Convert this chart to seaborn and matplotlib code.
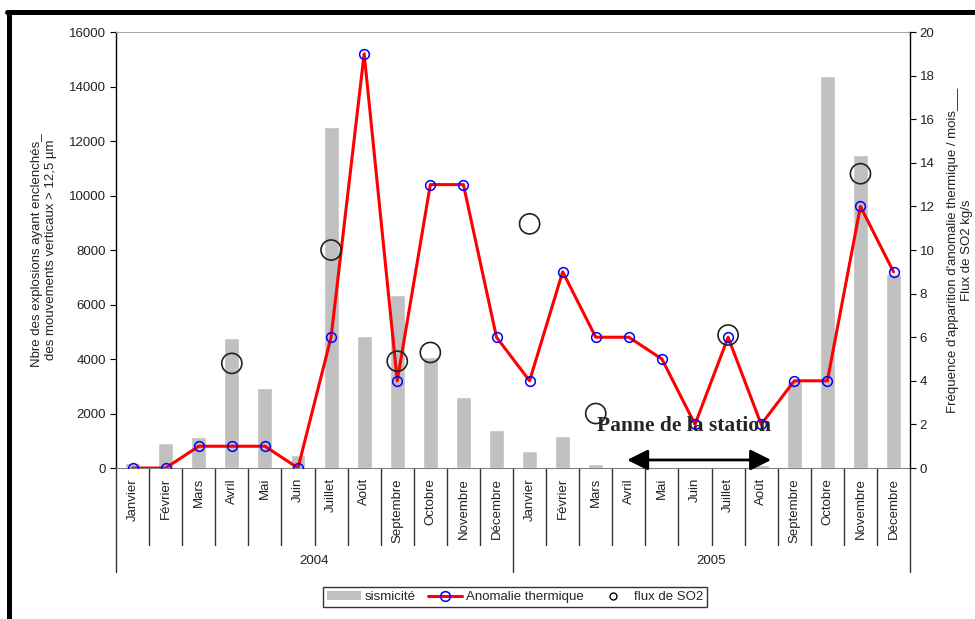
import pandas as pd
import numpy as np
import matplotlib.pyplot as plt
import seaborn as sns
from matplotlib.lines import Line2D
from matplotlib.patches import Patch
import matplotlib.transforms as mtransforms

months = ['Janvier', 'Février', 'Mars', 'Avril', 'Mai', 'Juin', 'Juillet', 'Août',
          'Septembre', 'Octobre', 'Novembre', 'Décembre']
years = ['2004', '2005']
sismicite = [200, 920, 1150, 4780, 2950, 470, 12500, 4850, 6350, 4090, 2620, 1390,
             630, 1180, 160, 0, 0, 0, 0, 100, 3200, 14400, 11480, 7120]
anomalie = [0, 0, 1, 1, 1, 0, 6, 19, 4, 13, 13, 6,
            4, 9, 6, 6, 5, 2, 6, 2, 4, 4, 12, 9]
so2 = [np.nan, np.nan, np.nan, 4.8, np.nan, np.nan, 10.0, np.nan, 4.9, 5.3, np.nan, np.nan,
       11.2, np.nan, 2.5, np.nan, np.nan, np.nan, 6.1, np.nan, np.nan, np.nan, 13.5, np.nan]

df = pd.DataFrame({
    'idx': np.arange(len(sismicite)),
    'mois': months * len(years),
    'sismicite': sismicite,
    'anomalie': anomalie,
    'so2': so2,
})

sns.set_style('white')
plt.rcParams['font.family'] = ['Liberation Sans', 'DejaVu Sans']
plt.rcParams['font.size'] = 9.5

fig = plt.figure(figsize=(9.75, 6.19), dpi=100)
ax = fig.add_axes([0.119, 0.2439, 0.8144, 0.7044])
ax2 = ax.twinx()

sns.barplot(data=df, x='idx', y='sismicite', color='#c0c0c0', saturation=1,
            width=0.45, ax=ax, zorder=1)
sns.lineplot(data=df, x='idx', y='anomalie', color='red', linewidth=2.2,
             marker='o', markersize=7, markerfacecolor='none',
             markeredgecolor='blue', markeredgewidth=1.1, ax=ax2, zorder=3)
sns.scatterplot(data=df.dropna(subset=['so2']), x='idx', y='so2', s=210,
                facecolor='none', edgecolor='#222222', linewidth=1.2, ax=ax2, zorder=4)

ax.set_xlim(-0.5, 23.5)
ax.set_ylim(0, 16000)
ax.set_yticks(range(0, 16001, 2000))
ax2.set_ylim(0, 20)
ax2.set_yticks(range(0, 21, 2))
ax.set_xticks([])
ax2.set_xticks([])
ax.set_xlabel('')
ax2.set_xlabel('')

for a in (ax, ax2):
    for s in a.spines.values():
        s.set_visible(False)
ax.spines['left'].set_visible(True)
ax.spines['left'].set_color('black')
ax.spines['left'].set_linewidth(1)
ax2.spines['right'].set_visible(True)
ax2.spines['right'].set_color('black')
ax2.spines['right'].set_linewidth(1)
ax.spines['top'].set_visible(True)
ax.spines['top'].set_color('#a8a8a8')
ax.spines['bottom'].set_visible(True)
ax.spines['bottom'].set_color('#808080')

ax.tick_params(axis='y', which='both', left=True, length=4, width=0.8, color='black',
               labelsize=9.5, labelcolor='#222222', pad=3)
ax2.tick_params(axis='y', which='both', right=True, length=4, width=0.8, color='black',
                labelsize=9.5, labelcolor='#222222', pad=3)

ax.set_ylabel("Nbre des explosions ayant enclenchés_\ndes mouvements verticaux > 12,5 µm",
              fontsize=9.5, color='#222222', labelpad=9)
ax2.set_ylabel("Fréquence d'apparition d'anomalie thermique / mois___\nFlux de SO2 kg/s",
               fontsize=9.5, color='#222222', labelpad=9)

# multi-level category axis (months / years)
trans = mtransforms.blended_transform_factory(ax.transData, ax.transAxes)
for k in range(len(df) + 1):
    bottom = -0.239 if k % 12 == 0 else -0.177
    ax.plot([k - 0.5, k - 0.5], [0, bottom], transform=trans, color='#333333',
            linewidth=1, clip_on=False)
for i, m in enumerate(df['mois']):
    ax.text(i, -0.023, m, transform=trans, rotation=90, ha='center', va='top',
            fontsize=9.5, color='#222222')
for j, y in enumerate(years):
    ax.text(12 * j + 5.5, -0.214, y, transform=trans, ha='center', va='center',
            fontsize=9.5, color='#222222')

# station outage annotation
ax2.annotate('', xy=(19.3, 0.37), xytext=(14.95, 0.37),
             arrowprops=dict(arrowstyle='<|-|>,head_length=0.9,head_width=0.45',
                             color='black', linewidth=2, shrinkA=0, shrinkB=0,
                             mutation_scale=14), zorder=5)
ax2.text(16.67, 1.95, 'Panne de la station', ha='center', va='center',
         fontsize=15.5, fontweight='bold', family=['Liberation Serif', 'DejaVu Serif'],
         zorder=6)

handles = [
    Patch(facecolor='#c0c0c0', edgecolor='none', label='sismicité'),
    Line2D([], [], color='red', linewidth=2.2, marker='o', markersize=7,
           markerfacecolor='none', markeredgecolor='blue', markeredgewidth=1.1,
           label='Anomalie thermique'),
    Line2D([], [], linestyle='none', marker='o', markersize=5, markerfacecolor='none',
           markeredgecolor='black', markeredgewidth=1, label='flux de SO2'),
]
leg = fig.legend(handles=handles, loc='center', bbox_to_anchor=(0.528, 0.0355), ncol=3,
                 frameon=True, fancybox=False, edgecolor='black', fontsize=9.5,
                 handlelength=2.6, handletextpad=0.3, columnspacing=0.9,
                 borderpad=0.3)
leg.get_frame().set_linewidth(1)

# outer frame of the original figure
fig.add_artist(Line2D([0.0072, 1.0], [0.980, 0.980], transform=fig.transFigure,
                      color='black', linewidth=3.6))
fig.add_artist(Line2D([0.0097, 0.0097], [0.0, 0.980], transform=fig.transFigure,
                      color='black', linewidth=3.6))

fig.savefig('out.png', dpi=100)
